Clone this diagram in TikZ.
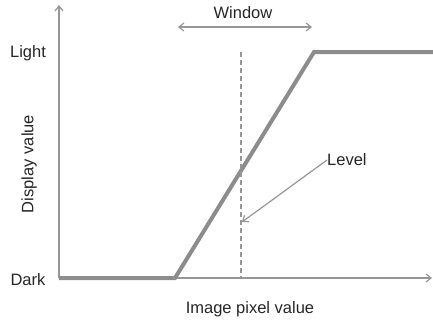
\documentclass[tikz,border=0pt]{standalone}
\usepackage{fontspec}
\setmainfont{Liberation Sans}
\usetikzlibrary{arrows.meta}
\definecolor{axisgray}{RGB}{150,150,150}
\definecolor{curvegray}{RGB}{140,140,140}
\begin{document}
\begin{tikzpicture}[x=1pt,y=-1pt,
  lbl/.style={font=\fontsize{16.5}{18}\selectfont, text=black!85, inner sep=0pt},
  axisline/.style={draw=axisgray, line width=1.2pt, -{Straight Barb[length=5pt,width=8pt]}},
  curve/.style={draw=curvegray, line width=4pt, line join=miter},
  thinarrow/.style={draw=axisgray, line width=1.2pt}]
\useasboundingbox (0,0) rectangle (433,322);
\coordinate (O) at (59,278);
\coordinate (ytop) at (59,5);
\coordinate (xend) at (432,278);
\coordinate (k1) at (175,278);
\coordinate (k2) at (314,52);
\coordinate (cend) at (433,52);
\coordinate (dtop) at (241,52);
\coordinate (dbot) at (241,278);
\coordinate (wl) at (178,27);
\coordinate (wr) at (312,27);
\coordinate (lvtip) at (242,222);
\draw[axisline] (O) -- (ytop);
\draw[axisline] (O) -- (xend);
\draw[curve] (O) -- (k1) -- (k2) -- (cend);
\draw[draw=axisgray, line width=1.2pt, dash pattern=on 5pt off 3pt] (dtop) -- (dbot);
\draw[thinarrow, {Straight Barb[length=5pt,width=8pt]}-{Straight Barb[length=5pt,width=8pt]}] (wl) -- (wr);
\node[lbl] (window) at (243,13) {Window};
\node[lbl, anchor=west] (level) at (327,160) {Level};
\draw[thinarrow, -{Straight Barb[length=5pt,width=8pt]}] (level.west) -- (lvtip);
\node[lbl] (light) at (28,53) {Light};
\node[lbl] (dark) at (28,280) {Dark};
\node[lbl, rotate=90] (display) at (29,164) {Display value};
\node[lbl] (image) at (250,309) {Image pixel value};
\end{tikzpicture}
\end{document}
